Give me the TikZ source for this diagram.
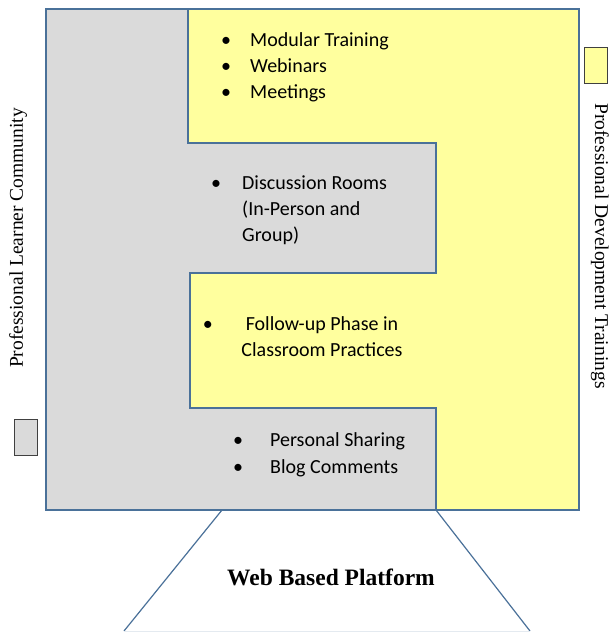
\documentclass[tikz,border=0pt]{standalone}
\usepackage{fontspec}
\setmainfont{Carlito}
\newfontfamily\serifface{Liberation Serif}
\usepackage{tikz}

\definecolor{plcgray}{HTML}{DADADA}
\definecolor{pdtyellow}{HTML}{FFFF9E}
\definecolor{frameblue}{HTML}{4A7199}
\newcommand{\itembul}[1]{\llap{\textbullet\hspace{#1}}}

\begin{document}
\begin{tikzpicture}[x=1pt, y=-1pt, every node/.style={inner sep=0pt,
                                  font=\fontsize{20}{26}\selectfont},
                    item/.style={anchor=base west},
                    side/.style={font=\serifface\fontsize{19.5}{20}\selectfont},
                    frame/.style={draw=frameblue, line width=1.6pt},
                    key/.style={draw=black!75, line width=0.9pt}]
    \useasboundingbox (0,0) rectangle (613,632);
    \fill[white] (0,0) rectangle (613,632);

    % corners of the frame
    \coordinate (fNW) at (46,9);
    \coordinate (fSE) at (579,510);
    \coordinate (wL) at (222,510);
    \coordinate (wR) at (436,510);
    \coordinate (bL) at (124,631);
    \coordinate (bR) at (530,631);

    \fill[plcgray] (fNW) rectangle (fSE);
    \filldraw[frame, fill=pdtyellow] (188,9) -- (579,9) -- (579,510) -- (436,510)
        -- (436,408) -- (190,408) -- (190,273) -- (436,273) -- (436,143)
        -- (188,143) -- cycle;
    \draw[frame] (fNW) rectangle (fSE);

    % platform
    \draw[frameblue, line width=1.2pt] (wL) -- (bL);
    \draw[frameblue, line width=1.2pt] (wR) -- (bR);
    \draw[frameblue!15, line width=1pt] (bL) -- (bR);
    \node[font=\serifface\bfseries\fontsize{23.5}{26}\selectfont] (web) at (331,577) {Web Based Platform};

    % items (base = last line)
    \foreach \t [count=\i] in {Modular Training, Webinars, Meetings} {
        \node[item] (pd\i) at (250,{46+26*(\i-1)}) {\itembul{19pt}\t};
    }
    \node[item, align=left] (disc) at (242,241) {\itembul{21pt}Discussion Rooms\\(In-Person and\\Group)};
    \node[anchor=base, align=center] (follow) at (322,356) {\itembul{33pt}Follow-up Phase in\\Classroom Practices};
    \foreach \t [count=\i] in {Personal Sharing, Blog Comments} {
        \node[item] (plc\i) at (270,{446+27*(\i-1)}) {\itembul{27pt}\t};
    }

    % legend
    \filldraw[key, fill=plcgray] (14,419) rectangle (37,455);
    \filldraw[key, fill=pdtyellow] (584,47) rectangle (607,83);
    \node[side, rotate=90] (plc) at (18,238) {Professional Learner Community};
    \node[side, rotate=-90] (pdt) at (600,246) {Professional Development Trainings};
\end{tikzpicture}
\end{document}
